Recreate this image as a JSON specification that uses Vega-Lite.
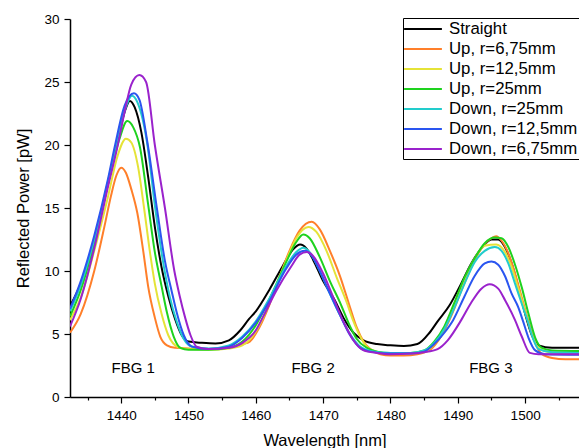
{
  "$schema": "https://vega.github.io/schema/vega-lite/v6.json",
  "width": 509,
  "height": 378,
  "autosize": {"type": "none"},
  "padding": {"left": 70, "top": 19, "right": 0, "bottom": 51},
  "background": "white",
  "config": {
    "view": {"stroke": null},
    "font": "Liberation Sans",
    "axis": {
      "domainColor": "black", "domainWidth": 1.5, "tickColor": "black", "tickWidth": 1.2,
      "labelColor": "black", "titleColor": "black", "labelFont": "Liberation Sans", "titleFont": "Liberation Sans",
      "labelFontSize": 13.5, "titleFontSize": 16.5, "titleFontWeight": "normal", "grid": false, "labelOverlap": false
    }
  },
  "resolve": {"axis": {"x": "independent"}},
  "layer": [
    {
      "data": {"values": [
        {"s":"Straight","x":1432.4,"y":7.2},{"s":"Straight","x":1434,"y":9.0},{"s":"Straight","x":1436,"y":12.2},{"s":"Straight","x":1438,"y":16.8},{"s":"Straight","x":1439.5,"y":20.3},{"s":"Straight","x":1440.5,"y":22.6},{"s":"Straight","x":1441.3,"y":23.5},{"s":"Straight","x":1442,"y":23.0},{"s":"Straight","x":1443,"y":21.0},{"s":"Straight","x":1444,"y":17.5},{"s":"Straight","x":1445,"y":13.5},{"s":"Straight","x":1446,"y":10.3},{"s":"Straight","x":1447,"y":8.0},{"s":"Straight","x":1448,"y":6.2},{"s":"Straight","x":1449,"y":4.9},{"s":"Straight","x":1450,"y":4.4},{"s":"Straight","x":1452,"y":4.3},{"s":"Straight","x":1454,"y":4.25},{"s":"Straight","x":1456,"y":4.5},{"s":"Straight","x":1457.7,"y":5.3},{"s":"Straight","x":1459,"y":6.2},{"s":"Straight","x":1460,"y":6.8},{"s":"Straight","x":1462,"y":8.5},{"s":"Straight","x":1464,"y":10.4},{"s":"Straight","x":1465.5,"y":11.7},{"s":"Straight","x":1466.6,"y":12.1},{"s":"Straight","x":1467.5,"y":11.8},{"s":"Straight","x":1468.5,"y":10.9},{"s":"Straight","x":1470,"y":9.2},{"s":"Straight","x":1471.7,"y":7.7},{"s":"Straight","x":1473,"y":6.3},{"s":"Straight","x":1474.5,"y":5.1},{"s":"Straight","x":1476,"y":4.5},{"s":"Straight","x":1478,"y":4.2},{"s":"Straight","x":1480,"y":4.1},{"s":"Straight","x":1482,"y":4.05},{"s":"Straight","x":1484,"y":4.2},{"s":"Straight","x":1485.8,"y":5.1},{"s":"Straight","x":1487,"y":6.0},{"s":"Straight","x":1488.8,"y":7.3},{"s":"Straight","x":1490.5,"y":9.0},{"s":"Straight","x":1492,"y":10.6},{"s":"Straight","x":1493.5,"y":11.8},{"s":"Straight","x":1495,"y":12.5},{"s":"Straight","x":1496,"y":12.5},{"s":"Straight","x":1497,"y":11.9},{"s":"Straight","x":1498,"y":10.6},{"s":"Straight","x":1499,"y":8.7},{"s":"Straight","x":1500,"y":6.6},{"s":"Straight","x":1501,"y":4.9},{"s":"Straight","x":1502,"y":4.1},{"s":"Straight","x":1504,"y":3.9},{"s":"Straight","x":1508,"y":3.9},

        {"s":"Up, r=6,75mm","x":1432.4,"y":5.1},{"s":"Up, r=6,75mm","x":1434,"y":6.6},{"s":"Up, r=6,75mm","x":1436,"y":10.0},{"s":"Up, r=6,75mm","x":1437.5,"y":13.5},{"s":"Up, r=6,75mm","x":1438.5,"y":16.0},{"s":"Up, r=6,75mm","x":1439.3,"y":17.6},{"s":"Up, r=6,75mm","x":1440,"y":18.2},{"s":"Up, r=6,75mm","x":1440.7,"y":17.8},{"s":"Up, r=6,75mm","x":1441.5,"y":16.5},{"s":"Up, r=6,75mm","x":1442.4,"y":14.6},{"s":"Up, r=6,75mm","x":1443.3,"y":11.5},{"s":"Up, r=6,75mm","x":1444,"y":8.8},{"s":"Up, r=6,75mm","x":1445,"y":6.3},{"s":"Up, r=6,75mm","x":1445.8,"y":4.8},{"s":"Up, r=6,75mm","x":1446.8,"y":4.1},{"s":"Up, r=6,75mm","x":1448,"y":3.9},{"s":"Up, r=6,75mm","x":1450,"y":3.85},{"s":"Up, r=6,75mm","x":1453,"y":3.8},{"s":"Up, r=6,75mm","x":1456,"y":3.9},{"s":"Up, r=6,75mm","x":1458,"y":4.2},{"s":"Up, r=6,75mm","x":1459.1,"y":4.4},{"s":"Up, r=6,75mm","x":1460.5,"y":5.5},{"s":"Up, r=6,75mm","x":1462,"y":7.3},{"s":"Up, r=6,75mm","x":1463.5,"y":9.5},{"s":"Up, r=6,75mm","x":1465,"y":11.6},{"s":"Up, r=6,75mm","x":1466.5,"y":13.2},{"s":"Up, r=6,75mm","x":1468.3,"y":13.9},{"s":"Up, r=6,75mm","x":1469.5,"y":13.3},{"s":"Up, r=6,75mm","x":1471,"y":11.6},{"s":"Up, r=6,75mm","x":1472.5,"y":9.6},{"s":"Up, r=6,75mm","x":1474,"y":7.1},{"s":"Up, r=6,75mm","x":1475,"y":5.5},{"s":"Up, r=6,75mm","x":1476,"y":4.4},{"s":"Up, r=6,75mm","x":1477,"y":3.8},{"s":"Up, r=6,75mm","x":1478.5,"y":3.4},{"s":"Up, r=6,75mm","x":1480,"y":3.3},{"s":"Up, r=6,75mm","x":1482,"y":3.3},{"s":"Up, r=6,75mm","x":1484,"y":3.4},{"s":"Up, r=6,75mm","x":1486,"y":3.8},{"s":"Up, r=6,75mm","x":1487.5,"y":4.8},{"s":"Up, r=6,75mm","x":1489,"y":6.4},{"s":"Up, r=6,75mm","x":1490.5,"y":8.4},{"s":"Up, r=6,75mm","x":1492,"y":10.3},{"s":"Up, r=6,75mm","x":1493.5,"y":11.8},{"s":"Up, r=6,75mm","x":1495,"y":12.6},{"s":"Up, r=6,75mm","x":1495.7,"y":12.75},{"s":"Up, r=6,75mm","x":1496.5,"y":12.4},{"s":"Up, r=6,75mm","x":1497.5,"y":11.4},{"s":"Up, r=6,75mm","x":1498.5,"y":9.8},{"s":"Up, r=6,75mm","x":1499.5,"y":7.9},{"s":"Up, r=6,75mm","x":1500.5,"y":6.0},{"s":"Up, r=6,75mm","x":1501.5,"y":4.3},{"s":"Up, r=6,75mm","x":1502.5,"y":3.4},{"s":"Up, r=6,75mm","x":1504,"y":3.1},{"s":"Up, r=6,75mm","x":1506,"y":3.0},{"s":"Up, r=6,75mm","x":1508,"y":3.0},

        {"s":"Up, r=12,5mm","x":1432.4,"y":6.1},{"s":"Up, r=12,5mm","x":1434,"y":7.9},{"s":"Up, r=12,5mm","x":1436,"y":11.6},{"s":"Up, r=12,5mm","x":1438,"y":15.8},{"s":"Up, r=12,5mm","x":1439.5,"y":19.2},{"s":"Up, r=12,5mm","x":1440.7,"y":20.5},{"s":"Up, r=12,5mm","x":1441.5,"y":20.2},{"s":"Up, r=12,5mm","x":1442.5,"y":18.3},{"s":"Up, r=12,5mm","x":1443.4,"y":15.0},{"s":"Up, r=12,5mm","x":1444.3,"y":11.4},{"s":"Up, r=12,5mm","x":1445,"y":9.0},{"s":"Up, r=12,5mm","x":1446,"y":6.6},{"s":"Up, r=12,5mm","x":1447,"y":4.9},{"s":"Up, r=12,5mm","x":1448.5,"y":3.95},{"s":"Up, r=12,5mm","x":1450,"y":3.8},{"s":"Up, r=12,5mm","x":1453,"y":3.75},{"s":"Up, r=12,5mm","x":1456,"y":3.85},{"s":"Up, r=12,5mm","x":1458,"y":4.1},{"s":"Up, r=12,5mm","x":1460,"y":5.2},{"s":"Up, r=12,5mm","x":1461.5,"y":6.8},{"s":"Up, r=12,5mm","x":1463,"y":8.8},{"s":"Up, r=12,5mm","x":1464.5,"y":10.8},{"s":"Up, r=12,5mm","x":1466,"y":12.6},{"s":"Up, r=12,5mm","x":1467.8,"y":13.5},{"s":"Up, r=12,5mm","x":1469,"y":13.1},{"s":"Up, r=12,5mm","x":1470.5,"y":11.6},{"s":"Up, r=12,5mm","x":1472,"y":9.5},{"s":"Up, r=12,5mm","x":1473.5,"y":7.5},{"s":"Up, r=12,5mm","x":1474.5,"y":6.0},{"s":"Up, r=12,5mm","x":1475.5,"y":4.8},{"s":"Up, r=12,5mm","x":1476.5,"y":4.0},{"s":"Up, r=12,5mm","x":1478,"y":3.6},{"s":"Up, r=12,5mm","x":1480,"y":3.45},{"s":"Up, r=12,5mm","x":1483,"y":3.45},{"s":"Up, r=12,5mm","x":1485,"y":3.6},{"s":"Up, r=12,5mm","x":1486.5,"y":4.2},{"s":"Up, r=12,5mm","x":1488,"y":5.5},{"s":"Up, r=12,5mm","x":1489.5,"y":7.4},{"s":"Up, r=12,5mm","x":1491,"y":9.4},{"s":"Up, r=12,5mm","x":1492.5,"y":11.0},{"s":"Up, r=12,5mm","x":1494,"y":12.0},{"s":"Up, r=12,5mm","x":1495.7,"y":12.1},{"s":"Up, r=12,5mm","x":1497,"y":11.5},{"s":"Up, r=12,5mm","x":1498,"y":10.3},{"s":"Up, r=12,5mm","x":1499,"y":8.6},{"s":"Up, r=12,5mm","x":1500,"y":6.8},{"s":"Up, r=12,5mm","x":1501,"y":5.0},{"s":"Up, r=12,5mm","x":1502,"y":3.9},{"s":"Up, r=12,5mm","x":1504,"y":3.55},{"s":"Up, r=12,5mm","x":1508,"y":3.5},

        {"s":"Up, r=25mm","x":1432.4,"y":6.4},{"s":"Up, r=25mm","x":1434,"y":8.5},{"s":"Up, r=25mm","x":1436,"y":12.2},{"s":"Up, r=25mm","x":1438,"y":16.8},{"s":"Up, r=25mm","x":1439.7,"y":20.4},{"s":"Up, r=25mm","x":1440.9,"y":21.9},{"s":"Up, r=25mm","x":1441.8,"y":21.4},{"s":"Up, r=25mm","x":1442.8,"y":19.8},{"s":"Up, r=25mm","x":1444,"y":15.3},{"s":"Up, r=25mm","x":1445,"y":11.5},{"s":"Up, r=25mm","x":1446,"y":8.8},{"s":"Up, r=25mm","x":1446.8,"y":6.7},{"s":"Up, r=25mm","x":1447.8,"y":4.8},{"s":"Up, r=25mm","x":1448.8,"y":3.9},{"s":"Up, r=25mm","x":1450,"y":3.75},{"s":"Up, r=25mm","x":1453,"y":3.75},{"s":"Up, r=25mm","x":1456,"y":3.9},{"s":"Up, r=25mm","x":1458,"y":4.4},{"s":"Up, r=25mm","x":1460,"y":5.7},{"s":"Up, r=25mm","x":1461.5,"y":7.2},{"s":"Up, r=25mm","x":1463,"y":8.9},{"s":"Up, r=25mm","x":1464.5,"y":10.7},{"s":"Up, r=25mm","x":1466,"y":12.3},{"s":"Up, r=25mm","x":1467.05,"y":12.9},{"s":"Up, r=25mm","x":1468,"y":12.6},{"s":"Up, r=25mm","x":1469.5,"y":11.1},{"s":"Up, r=25mm","x":1471,"y":9.2},{"s":"Up, r=25mm","x":1472.5,"y":7.5},{"s":"Up, r=25mm","x":1474,"y":5.6},{"s":"Up, r=25mm","x":1475,"y":4.6},{"s":"Up, r=25mm","x":1476.5,"y":3.9},{"s":"Up, r=25mm","x":1478,"y":3.6},{"s":"Up, r=25mm","x":1480,"y":3.5},{"s":"Up, r=25mm","x":1483,"y":3.5},{"s":"Up, r=25mm","x":1485,"y":3.7},{"s":"Up, r=25mm","x":1486.5,"y":4.4},{"s":"Up, r=25mm","x":1488,"y":5.6},{"s":"Up, r=25mm","x":1489.5,"y":7.5},{"s":"Up, r=25mm","x":1491,"y":9.5},{"s":"Up, r=25mm","x":1492.5,"y":11.0},{"s":"Up, r=25mm","x":1494,"y":12.2},{"s":"Up, r=25mm","x":1495.5,"y":12.65},{"s":"Up, r=25mm","x":1496.5,"y":12.6},{"s":"Up, r=25mm","x":1497.5,"y":11.9},{"s":"Up, r=25mm","x":1498.5,"y":10.5},{"s":"Up, r=25mm","x":1499.5,"y":8.7},{"s":"Up, r=25mm","x":1500.5,"y":6.6},{"s":"Up, r=25mm","x":1501.5,"y":4.7},{"s":"Up, r=25mm","x":1502.5,"y":3.9},{"s":"Up, r=25mm","x":1504,"y":3.7},{"s":"Up, r=25mm","x":1508,"y":3.65},

        {"s":"Down, r=25mm","x":1432.4,"y":6.8},{"s":"Down, r=25mm","x":1434,"y":8.9},{"s":"Down, r=25mm","x":1436,"y":12.5},{"s":"Down, r=25mm","x":1438,"y":17.0},{"s":"Down, r=25mm","x":1439.5,"y":20.6},{"s":"Down, r=25mm","x":1440.7,"y":23.0},{"s":"Down, r=25mm","x":1441.6,"y":23.9},{"s":"Down, r=25mm","x":1442.4,"y":23.4},{"s":"Down, r=25mm","x":1443.9,"y":20.0},{"s":"Down, r=25mm","x":1445,"y":15.2},{"s":"Down, r=25mm","x":1446.2,"y":10.8},{"s":"Down, r=25mm","x":1447.2,"y":8.0},{"s":"Down, r=25mm","x":1448.3,"y":5.9},{"s":"Down, r=25mm","x":1449.3,"y":4.6},{"s":"Down, r=25mm","x":1450.5,"y":4.0},{"s":"Down, r=25mm","x":1453,"y":3.85},{"s":"Down, r=25mm","x":1456,"y":4.1},{"s":"Down, r=25mm","x":1458,"y":4.8},{"s":"Down, r=25mm","x":1460,"y":6.0},{"s":"Down, r=25mm","x":1462,"y":7.8},{"s":"Down, r=25mm","x":1464.3,"y":10.2},{"s":"Down, r=25mm","x":1466,"y":11.5},{"s":"Down, r=25mm","x":1467.05,"y":11.85},{"s":"Down, r=25mm","x":1468,"y":11.5},{"s":"Down, r=25mm","x":1469.5,"y":10.0},{"s":"Down, r=25mm","x":1471,"y":8.2},{"s":"Down, r=25mm","x":1472.5,"y":6.5},{"s":"Down, r=25mm","x":1474,"y":5.0},{"s":"Down, r=25mm","x":1475.5,"y":4.0},{"s":"Down, r=25mm","x":1477,"y":3.65},{"s":"Down, r=25mm","x":1480,"y":3.5},{"s":"Down, r=25mm","x":1483,"y":3.5},{"s":"Down, r=25mm","x":1485,"y":3.7},{"s":"Down, r=25mm","x":1486.5,"y":4.3},{"s":"Down, r=25mm","x":1488,"y":5.4},{"s":"Down, r=25mm","x":1489.5,"y":7.1},{"s":"Down, r=25mm","x":1491,"y":9.0},{"s":"Down, r=25mm","x":1492.5,"y":10.7},{"s":"Down, r=25mm","x":1494,"y":11.6},{"s":"Down, r=25mm","x":1495.5,"y":11.9},{"s":"Down, r=25mm","x":1496.5,"y":11.6},{"s":"Down, r=25mm","x":1497.5,"y":10.6},{"s":"Down, r=25mm","x":1498.5,"y":9.0},{"s":"Down, r=25mm","x":1499.5,"y":7.4},{"s":"Down, r=25mm","x":1500.4,"y":6.0},{"s":"Down, r=25mm","x":1501.2,"y":4.6},{"s":"Down, r=25mm","x":1502,"y":3.8},{"s":"Down, r=25mm","x":1504,"y":3.55},{"s":"Down, r=25mm","x":1508,"y":3.5},

        {"s":"Down, r=12,5mm","x":1432.4,"y":7.0},{"s":"Down, r=12,5mm","x":1434,"y":9.2},{"s":"Down, r=12,5mm","x":1436,"y":12.8},{"s":"Down, r=12,5mm","x":1438,"y":17.2},{"s":"Down, r=12,5mm","x":1439.1,"y":20.0},{"s":"Down, r=12,5mm","x":1440.5,"y":23.1},{"s":"Down, r=12,5mm","x":1441.9,"y":24.1},{"s":"Down, r=12,5mm","x":1442.7,"y":23.6},{"s":"Down, r=12,5mm","x":1443.9,"y":20.2},{"s":"Down, r=12,5mm","x":1445.3,"y":15.0},{"s":"Down, r=12,5mm","x":1446.5,"y":10.8},{"s":"Down, r=12,5mm","x":1447.5,"y":8.4},{"s":"Down, r=12,5mm","x":1448.3,"y":6.6},{"s":"Down, r=12,5mm","x":1449.3,"y":4.9},{"s":"Down, r=12,5mm","x":1450.5,"y":4.0},{"s":"Down, r=12,5mm","x":1453,"y":3.8},{"s":"Down, r=12,5mm","x":1456,"y":4.0},{"s":"Down, r=12,5mm","x":1458,"y":4.7},{"s":"Down, r=12,5mm","x":1460,"y":5.9},{"s":"Down, r=12,5mm","x":1462,"y":7.6},{"s":"Down, r=12,5mm","x":1464.3,"y":10.0},{"s":"Down, r=12,5mm","x":1466,"y":11.3},{"s":"Down, r=12,5mm","x":1467.3,"y":11.6},{"s":"Down, r=12,5mm","x":1468.3,"y":11.2},{"s":"Down, r=12,5mm","x":1469.5,"y":10.0},{"s":"Down, r=12,5mm","x":1471,"y":8.2},{"s":"Down, r=12,5mm","x":1472.5,"y":6.5},{"s":"Down, r=12,5mm","x":1474,"y":4.9},{"s":"Down, r=12,5mm","x":1475.5,"y":3.9},{"s":"Down, r=12,5mm","x":1477,"y":3.6},{"s":"Down, r=12,5mm","x":1480,"y":3.45},{"s":"Down, r=12,5mm","x":1483,"y":3.45},{"s":"Down, r=12,5mm","x":1485,"y":3.6},{"s":"Down, r=12,5mm","x":1486.5,"y":4.2},{"s":"Down, r=12,5mm","x":1488,"y":5.1},{"s":"Down, r=12,5mm","x":1489.3,"y":6.1},{"s":"Down, r=12,5mm","x":1491,"y":8.0},{"s":"Down, r=12,5mm","x":1492.5,"y":9.6},{"s":"Down, r=12,5mm","x":1494,"y":10.6},{"s":"Down, r=12,5mm","x":1495,"y":10.75},{"s":"Down, r=12,5mm","x":1496,"y":10.5},{"s":"Down, r=12,5mm","x":1497,"y":9.6},{"s":"Down, r=12,5mm","x":1498,"y":8.2},{"s":"Down, r=12,5mm","x":1499,"y":7.1},{"s":"Down, r=12,5mm","x":1499.7,"y":6.0},{"s":"Down, r=12,5mm","x":1500.5,"y":4.7},{"s":"Down, r=12,5mm","x":1501.5,"y":3.7},{"s":"Down, r=12,5mm","x":1503,"y":3.4},{"s":"Down, r=12,5mm","x":1508,"y":3.35},

        {"s":"Down, r=6,75mm","x":1432.4,"y":5.6},{"s":"Down, r=6,75mm","x":1434,"y":7.8},{"s":"Down, r=6,75mm","x":1436,"y":11.8},{"s":"Down, r=6,75mm","x":1438,"y":16.6},{"s":"Down, r=6,75mm","x":1439.5,"y":20.0},{"s":"Down, r=6,75mm","x":1440.5,"y":22.6},{"s":"Down, r=6,75mm","x":1441.5,"y":24.8},{"s":"Down, r=6,75mm","x":1442.7,"y":25.55},{"s":"Down, r=6,75mm","x":1443.7,"y":25.0},{"s":"Down, r=6,75mm","x":1445,"y":20.0},{"s":"Down, r=6,75mm","x":1446.5,"y":15.0},{"s":"Down, r=6,75mm","x":1447.9,"y":10.0},{"s":"Down, r=6,75mm","x":1448.7,"y":8.0},{"s":"Down, r=6,75mm","x":1449.5,"y":6.3},{"s":"Down, r=6,75mm","x":1450.3,"y":4.9},{"s":"Down, r=6,75mm","x":1451.2,"y":4.0},{"s":"Down, r=6,75mm","x":1453,"y":3.8},{"s":"Down, r=6,75mm","x":1456,"y":3.9},{"s":"Down, r=6,75mm","x":1458,"y":4.3},{"s":"Down, r=6,75mm","x":1460,"y":5.3},{"s":"Down, r=6,75mm","x":1461.1,"y":6.4},{"s":"Down, r=6,75mm","x":1463,"y":8.4},{"s":"Down, r=6,75mm","x":1465.3,"y":10.4},{"s":"Down, r=6,75mm","x":1466.5,"y":11.3},{"s":"Down, r=6,75mm","x":1467.6,"y":11.5},{"s":"Down, r=6,75mm","x":1468.5,"y":11.2},{"s":"Down, r=6,75mm","x":1470,"y":9.8},{"s":"Down, r=6,75mm","x":1471.5,"y":7.9},{"s":"Down, r=6,75mm","x":1473,"y":6.0},{"s":"Down, r=6,75mm","x":1474.5,"y":4.5},{"s":"Down, r=6,75mm","x":1476,"y":3.7},{"s":"Down, r=6,75mm","x":1478,"y":3.5},{"s":"Down, r=6,75mm","x":1480,"y":3.4},{"s":"Down, r=6,75mm","x":1483,"y":3.45},{"s":"Down, r=6,75mm","x":1485,"y":3.55},{"s":"Down, r=6,75mm","x":1487,"y":3.8},{"s":"Down, r=6,75mm","x":1488.5,"y":4.5},{"s":"Down, r=6,75mm","x":1490.5,"y":6.1},{"s":"Down, r=6,75mm","x":1492,"y":7.5},{"s":"Down, r=6,75mm","x":1493.5,"y":8.6},{"s":"Down, r=6,75mm","x":1494.75,"y":8.95},{"s":"Down, r=6,75mm","x":1496,"y":8.6},{"s":"Down, r=6,75mm","x":1497,"y":7.7},{"s":"Down, r=6,75mm","x":1498.5,"y":6.1},{"s":"Down, r=6,75mm","x":1499.5,"y":4.8},{"s":"Down, r=6,75mm","x":1500.7,"y":3.5},{"s":"Down, r=6,75mm","x":1502,"y":3.4},{"s":"Down, r=6,75mm","x":1508,"y":3.4}
      ]},
      "mark": {"type": "line", "strokeWidth": 2, "interpolate": "monotone", "clip": true},
      "encoding": {
        "x": {"field": "x", "type": "quantitative",
          "scale": {"domain": [1432.4, 1508], "nice": false, "zero": false},
          "axis": {"orient": "bottom", "title": "Wavelength [nm]", "values": [1440,1450,1460,1470,1480,1490,1500],
            "format": "d", "tickSize": 6, "labelPadding": 5, "titlePadding": 11, "labelFlush": false}},
        "y": {"field": "y", "type": "quantitative",
          "scale": {"domain": [0, 30], "nice": false},
          "axis": {"title": "Reflected Power [pW]", "values": [0,2.5,5,7.5,10,12.5,15,17.5,20,22.5,25,27.5,30],
            "labelExpr": "datum.value % 5 === 0 ? datum.label : ''",
            "tickSize": {"condition": {"test": "datum.value % 5 === 0", "value": 6}, "value": 3},
            "labelPadding": 5, "titlePadding": 12, "labelFlush": false}},
        "color": {"field": "s", "type": "nominal",
          "scale": {"domain": ["Straight","Up, r=6,75mm","Up, r=12,5mm","Up, r=25mm","Down, r=25mm","Down, r=12,5mm","Down, r=6,75mm"],
            "range": ["#000000","#ff7f2a","#e5e337","#1ed21e","#22cccc","#2a55f0","#9a22cc"]},
          "legend": {"title": null, "orient": "none", "legendX": 333, "legendY": -1,
            "symbolType": "M-2.1,0H2.1", "symbolSize": 324, "symbolStrokeWidth": 2, "symbolOffset": 9,
            "labelFontSize": 16.8, "labelFont": "Liberation Sans", "labelColor": "black", "labelOffset": 16, "labelLimit": 300,
            "rowPadding": 1, "padding": 1, "strokeColor": "black", "fillColor": "white"}}
      }
    },
    {
      "data": {"values": [
        {"t": "FBG 1", "x": 1441.8, "y": 2.3},
        {"t": "FBG 2", "x": 1468.5, "y": 2.3},
        {"t": "FBG 3", "x": 1494.9, "y": 2.3}
      ]},
      "mark": {"type": "text", "fontSize": 15, "font": "Liberation Sans", "color": "black"},
      "encoding": {
        "x": {"field": "x", "type": "quantitative",
          "axis": {"orient": "bottom", "title": null, "values": [1435,1445,1455,1465,1475,1485,1495,1505],
            "labels": false, "domain": false, "tickSize": 3}},
        "y": {"field": "y", "type": "quantitative"},
        "text": {"field": "t"}
      }
    }
  ]
}
